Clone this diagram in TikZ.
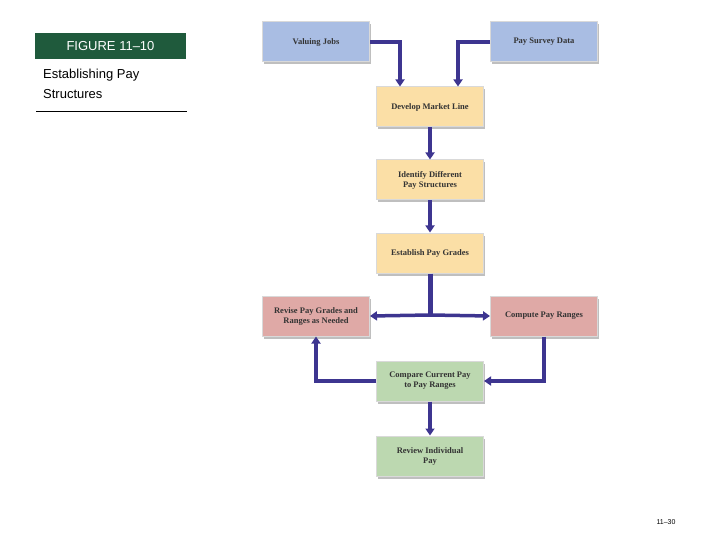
\documentclass[tikz,border=0pt]{standalone}
\usepackage{fontspec}
\setmainfont{Liberation Serif}
\newfontfamily\sansf{Liberation Sans}
\usetikzlibrary{arrows.meta,shadows}
\definecolor{arr}{HTML}{3D3590}
\definecolor{cblue}{HTML}{A9BDE3}
\definecolor{cyel}{HTML}{FBDFA6}
\definecolor{cpink}{HTML}{DFA9A6}
\definecolor{cgreen}{HTML}{BCD8B0}
\definecolor{fig}{HTML}{1F5A3C}
\tikzset{
 box/.style={draw=white!85!black, line width=1pt, minimum width=107pt, minimum height=40pt, align=center,
   font=\bfseries\fontsize{8.5}{10}\selectfont, text=black!80, drop shadow={shadow xshift=1.5pt,shadow yshift=-2.5pt,opacity=0.25,fill=black}},
 con/.style={draw=arr, line width=3.5pt, -{Triangle[length=7pt,width=9pt]}},
}
\begin{document}
\begin{tikzpicture}[x=1pt,y=-1pt]
\useasboundingbox (0,0) rectangle (720,540);
\node[fill=fig, text=white, minimum width=151pt, minimum height=26pt, font=\sansf\fontsize{13}{15}\selectfont] (fg) at (110.5,46) {FIGURE 11–10};
\node[anchor=north west, align=left, font=\sansf\fontsize{13}{20}\selectfont, inner sep=0pt] (tt) at (43,69) {Establishing Pay\\Structures};
\coordinate (l1) at (36,111); \coordinate (l2) at (187,111);
\draw[line width=0.8pt] (l1) -- (l2);
\node[font=\sansf\fontsize{7}{8}\selectfont] (pg) at (666,522) {11–30};

\node[box, fill=cblue] (vj) at (316,42) {Valuing Jobs};
\node[box, fill=cblue] (ps) at (544,42) {Pay Survey Data};
\node[box, fill=cyel] (dm) at (430,107) {Develop Market Line};
\node[box, fill=cyel] (id) at (430,180) {Identify Different\\Pay Structures};
\node[box, fill=cyel] (eg) at (430,253) {Establish Pay Grades};
\node[box, fill=cpink] (rv) at (316,316) {Revise Pay Grades and\\Ranges as Needed};
\node[box, fill=cpink] (cp) at (544,316) {Compute Pay Ranges};
\node[box, fill=cgreen] (cc) at (430,381) {Compare Current Pay\\to Pay Ranges};
\node[box, fill=cgreen] (ri) at (430,456) {Review Individual\\Pay};

\draw[con] (vj.east) -| ([xshift=-30pt]dm.north);
\draw[con] (ps.west) -| ([xshift=28pt]dm.north);
\draw[con] (dm) -- (id);
\draw[con] (id) -- (eg);
\coordinate (sp) at (430,315);
\draw[draw=arr, line width=5pt] (eg.south) -- (sp);
\draw[con] (sp) -- (rv.east);
\draw[con] (sp) -- (cp.west);
\draw[con] (cp.south) |- (cc.east);
\draw[con] (cc.west) -| (rv.south);
\draw[con] (cc) -- (ri);
\end{tikzpicture}
\end{document}
